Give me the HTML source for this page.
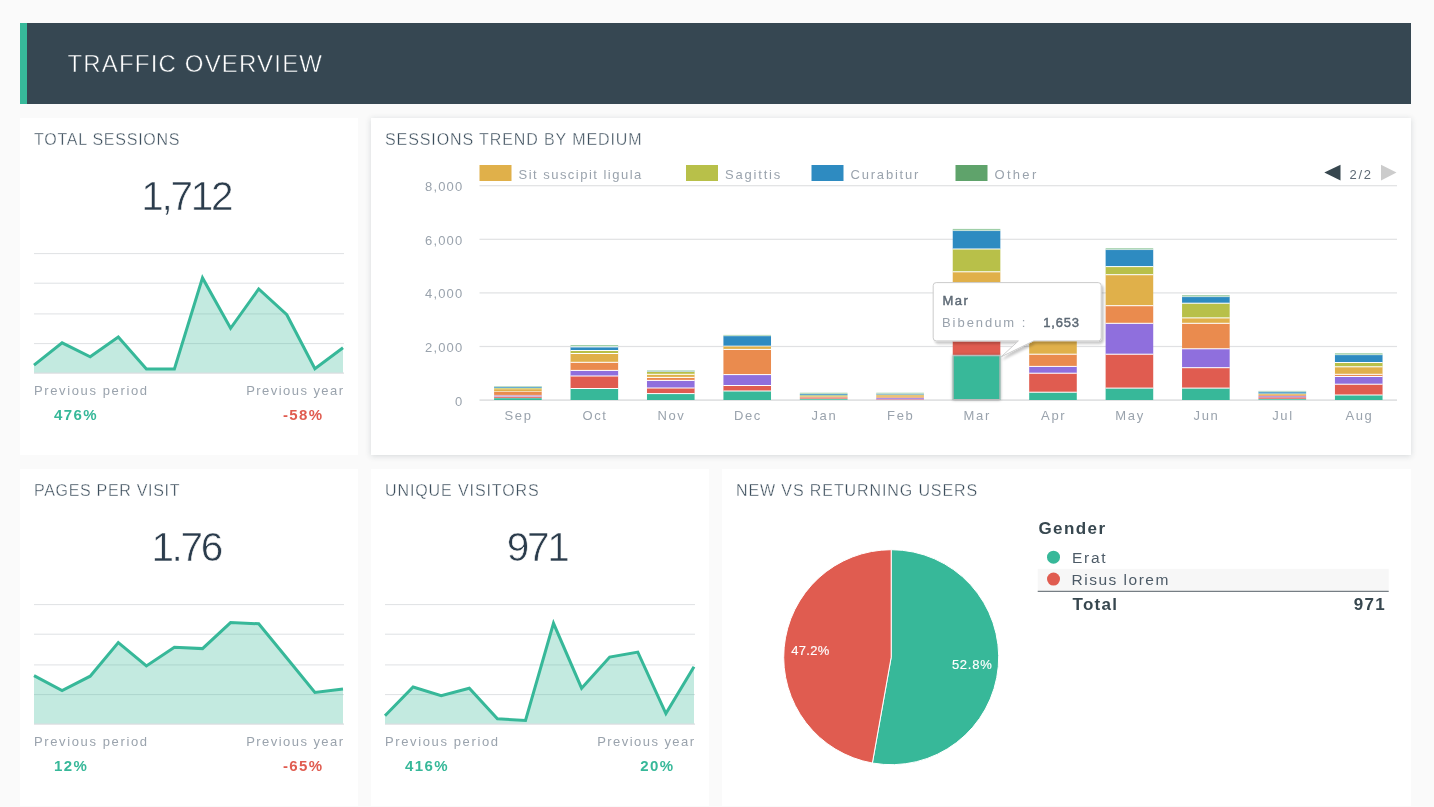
<!DOCTYPE html>
<html><head><meta charset="utf-8"><style>
html,body{margin:0;padding:0;}
body{width:1434px;height:807px;background:#fafafa;position:relative;overflow:hidden;font-family:"Liberation Sans", sans-serif;}
.p{position:absolute;background:#fff;}
svg{position:absolute;left:0;top:0;will-change:transform;}
text{font-family:"Liberation Sans", sans-serif;}
</style></head><body>
<div class="p" style="left:20px;top:23px;width:1391px;height:81px;background:#364752;"></div>
<div class="p" style="left:20px;top:23px;width:7px;height:81px;background:#37b99a;"></div>
<div class="p" style="left:20px;top:118px;width:338px;height:337px;"></div>
<div class="p" style="left:371px;top:118px;width:1040px;height:337px;box-shadow:0 1px 6px rgba(30,45,60,0.17);"></div>
<div class="p" style="left:20px;top:469px;width:338px;height:337px;"></div>
<div class="p" style="left:371px;top:469px;width:338px;height:337px;"></div>
<div class="p" style="left:722px;top:469px;width:689px;height:337px;"></div>
<svg width="1434" height="807" viewBox="0 0 1434 807">
<defs><filter id="ttshadow" x="-10%" y="-20%" width="130%" height="150%"><feDropShadow dx="2" dy="2.5" stdDeviation="1.3" flood-color="#000" flood-opacity="0.22"/></filter><filter id="hov" x="-20%" y="-20%" width="140%" height="140%"><feDropShadow dx="0" dy="0" stdDeviation="1.6" flood-color="#000" flood-opacity="0.4"/></filter></defs>
<text x="67.5" y="72" font-size="24" fill="#ffffff" font-weight="normal" text-anchor="start" letter-spacing="1.17" stroke="#364752" stroke-width="0.5">TRAFFIC OVERVIEW</text>
<text x="34" y="145" font-size="16" fill="#3b4d5b" font-weight="normal" text-anchor="start" letter-spacing="0.75" stroke="#fff" stroke-width="0.35">TOTAL SESSIONS</text>
<text x="385" y="145" font-size="16" fill="#3b4d5b" font-weight="normal" text-anchor="start" letter-spacing="0.9" stroke="#fff" stroke-width="0.35">SESSIONS TREND BY MEDIUM</text>
<text x="34" y="496" font-size="16" fill="#3b4d5b" font-weight="normal" text-anchor="start" letter-spacing="0.69" stroke="#fff" stroke-width="0.35">PAGES PER VISIT</text>
<text x="385" y="496" font-size="16" fill="#3b4d5b" font-weight="normal" text-anchor="start" letter-spacing="0.9" stroke="#fff" stroke-width="0.35">UNIQUE VISITORS</text>
<text x="736" y="496" font-size="16" fill="#3b4d5b" font-weight="normal" text-anchor="start" letter-spacing="0.9" stroke="#fff" stroke-width="0.35">NEW VS RETURNING USERS</text>
<text x="186.2" y="209.5" font-size="40.5" fill="#2b3c4c" font-weight="normal" text-anchor="middle" letter-spacing="-2.3" stroke="#fff" stroke-width="0.6">1,712</text>
<rect x="34" y="253.1" width="310" height="1" fill="#dfe1e4"/>
<rect x="34" y="282.7" width="310" height="1" fill="#dfe1e4"/>
<rect x="34" y="313.4" width="310" height="1" fill="#dfe1e4"/>
<rect x="34" y="343.1" width="310" height="1" fill="#dfe1e4"/>
<polygon points="34,373 34.0,365.2 62.1,342.8 90.2,356.8 118.3,337.0 146.4,369.0 174.4,369.0 202.5,277.9 230.6,328.3 258.7,289.0 286.8,314.7 314.9,368.8 343.0,347.7 343,373" fill="rgba(55,184,153,0.3)"/>
<rect x="34" y="372.5" width="310" height="1.2" fill="#dadcdf"/>
<polyline points="34.0,365.2 62.1,342.8 90.2,356.8 118.3,337.0 146.4,369.0 174.4,369.0 202.5,277.9 230.6,328.3 258.7,289.0 286.8,314.7 314.9,368.8 343.0,347.7" fill="none" stroke="#37b899" stroke-width="3" stroke-linejoin="miter"/>
<text x="34" y="395" font-size="13" fill="#9aa3ad" font-weight="normal" text-anchor="start" letter-spacing="1.62" >Previous period</text>
<text x="344.5" y="395" font-size="13" fill="#9aa3ad" font-weight="normal" text-anchor="end" letter-spacing="1.45" >Previous year</text>
<text x="54" y="420" font-size="15" fill="#37b899" font-weight="bold" text-anchor="start" letter-spacing="1.4" >476%</text>
<text x="323.5" y="420" font-size="15" fill="#e05c50" font-weight="bold" text-anchor="end" letter-spacing="1.4" >-58%</text>
<text x="186.2" y="560.5" font-size="40.5" fill="#2b3c4c" font-weight="normal" text-anchor="middle" letter-spacing="-2.3" stroke="#fff" stroke-width="0.6">1.76</text>
<rect x="34" y="604.1" width="310" height="1" fill="#dfe1e4"/>
<rect x="34" y="633.7" width="310" height="1" fill="#dfe1e4"/>
<rect x="34" y="664.4" width="310" height="1" fill="#dfe1e4"/>
<rect x="34" y="694.1" width="310" height="1" fill="#dfe1e4"/>
<polygon points="34,724 34.0,675.6 62.1,690.5 90.2,676.2 118.3,642.6 146.4,665.9 174.4,647.2 202.5,648.6 230.6,622.6 258.7,623.8 286.8,658.0 314.9,692.4 343.0,688.9 343,724" fill="rgba(55,184,153,0.3)"/>
<rect x="34" y="723.5" width="310" height="1.2" fill="#dadcdf"/>
<polyline points="34.0,675.6 62.1,690.5 90.2,676.2 118.3,642.6 146.4,665.9 174.4,647.2 202.5,648.6 230.6,622.6 258.7,623.8 286.8,658.0 314.9,692.4 343.0,688.9" fill="none" stroke="#37b899" stroke-width="3" stroke-linejoin="miter"/>
<text x="34" y="746" font-size="13" fill="#9aa3ad" font-weight="normal" text-anchor="start" letter-spacing="1.62" >Previous period</text>
<text x="344.5" y="746" font-size="13" fill="#9aa3ad" font-weight="normal" text-anchor="end" letter-spacing="1.45" >Previous year</text>
<text x="54" y="771" font-size="15" fill="#37b899" font-weight="bold" text-anchor="start" letter-spacing="1.4" >12%</text>
<text x="323.5" y="771" font-size="15" fill="#e05c50" font-weight="bold" text-anchor="end" letter-spacing="1.4" >-65%</text>
<text x="537.2" y="560.5" font-size="40.5" fill="#2b3c4c" font-weight="normal" text-anchor="middle" letter-spacing="-2.3" stroke="#fff" stroke-width="0.6">971</text>
<rect x="385" y="604.1" width="310" height="1" fill="#dfe1e4"/>
<rect x="385" y="633.7" width="310" height="1" fill="#dfe1e4"/>
<rect x="385" y="664.4" width="310" height="1" fill="#dfe1e4"/>
<rect x="385" y="694.1" width="310" height="1" fill="#dfe1e4"/>
<polygon points="385,724 385.0,715.8 413.1,687.0 441.2,695.8 469.3,688.2 497.4,718.8 525.5,720.4 553.5,623.3 581.6,688.2 609.7,657.1 637.8,652.1 665.9,713.5 694.0,666.8 694,724" fill="rgba(55,184,153,0.3)"/>
<rect x="385" y="723.5" width="310" height="1.2" fill="#dadcdf"/>
<polyline points="385.0,715.8 413.1,687.0 441.2,695.8 469.3,688.2 497.4,718.8 525.5,720.4 553.5,623.3 581.6,688.2 609.7,657.1 637.8,652.1 665.9,713.5 694.0,666.8" fill="none" stroke="#37b899" stroke-width="3" stroke-linejoin="miter"/>
<text x="385" y="746" font-size="13" fill="#9aa3ad" font-weight="normal" text-anchor="start" letter-spacing="1.62" >Previous period</text>
<text x="695.5" y="746" font-size="13" fill="#9aa3ad" font-weight="normal" text-anchor="end" letter-spacing="1.45" >Previous year</text>
<text x="405" y="771" font-size="15" fill="#37b899" font-weight="bold" text-anchor="start" letter-spacing="1.4" >416%</text>
<text x="674.5" y="771" font-size="15" fill="#37b899" font-weight="bold" text-anchor="end" letter-spacing="1.4" >20%</text>
<text x="463.5" y="191" font-size="13" fill="#9aa3ad" font-weight="normal" text-anchor="end" letter-spacing="1.2" >8,000</text>
<text x="463.5" y="245" font-size="13" fill="#9aa3ad" font-weight="normal" text-anchor="end" letter-spacing="1.2" >6,000</text>
<text x="463.5" y="298" font-size="13" fill="#9aa3ad" font-weight="normal" text-anchor="end" letter-spacing="1.2" >4,000</text>
<text x="463.5" y="352" font-size="13" fill="#9aa3ad" font-weight="normal" text-anchor="end" letter-spacing="1.2" >2,000</text>
<rect x="479.5" y="185.1" width="917.5" height="1.2" fill="#e0e1e3"/>
<rect x="479.5" y="238.7" width="917.5" height="1.2" fill="#e0e1e3"/>
<rect x="479.5" y="292.3" width="917.5" height="1.2" fill="#e0e1e3"/>
<rect x="479.5" y="345.9" width="917.5" height="1.2" fill="#e0e1e3"/>
<rect x="479.5" y="399.4" width="917.5" height="1.4" fill="#dadbdd"/>
<text x="463.5" y="406" font-size="13" fill="#9aa3ad" font-weight="normal" text-anchor="end" letter-spacing="1.2" >0</text>
<rect x="494.1" y="398.0" width="47.6" height="2.0" fill="#37b899"/>
<rect x="494.1" y="396.5" width="47.6" height="1.5" fill="#e05c50"/>
<rect x="494.1" y="395.3" width="47.6" height="1.2" fill="#8f6fdd"/>
<rect x="494.1" y="391.5" width="47.6" height="3.8" fill="#ea8b4e"/>
<rect x="494.1" y="389.0" width="47.6" height="2.5" fill="#e0b04a"/>
<rect x="494.1" y="388.0" width="47.6" height="1.0" fill="#b8c049"/>
<rect x="494.1" y="386.8" width="47.6" height="1.2" fill="#2e8bc1"/>
<rect x="494.1" y="386.0" width="47.6" height="0.8" fill="#9fcfa8"/>
<rect x="494.1" y="397.5" width="47.6" height="1" fill="rgba(255,255,255,0.4)"/>
<rect x="494.1" y="396.0" width="47.6" height="1" fill="rgba(255,255,255,0.4)"/>
<rect x="494.1" y="394.8" width="47.6" height="1" fill="rgba(255,255,255,0.4)"/>
<rect x="494.1" y="391.0" width="47.6" height="1" fill="rgba(255,255,255,0.45)"/>
<rect x="494.1" y="388.5" width="47.6" height="1" fill="rgba(255,255,255,0.4)"/>
<rect x="494.1" y="387.5" width="47.6" height="1" fill="rgba(255,255,255,0.4)"/>
<rect x="494.1" y="386.3" width="47.6" height="1" fill="rgba(255,255,255,0.4)"/>
<text x="518.6" y="420" font-size="13" fill="#9aa3ad" font-weight="normal" text-anchor="middle" letter-spacing="1.65" >Sep</text>
<rect x="570.54" y="388.5" width="47.6" height="11.5" fill="#37b899"/>
<rect x="570.54" y="376.0" width="47.6" height="12.5" fill="#e05c50"/>
<rect x="570.54" y="370.4" width="47.6" height="5.6" fill="#8f6fdd"/>
<rect x="570.54" y="362.3" width="47.6" height="8.1" fill="#ea8b4e"/>
<rect x="570.54" y="353.5" width="47.6" height="8.8" fill="#e0b04a"/>
<rect x="570.54" y="350.5" width="47.6" height="3.0" fill="#b8c049"/>
<rect x="570.54" y="346.9" width="47.6" height="3.6" fill="#2e8bc1"/>
<rect x="570.54" y="345.0" width="47.6" height="1.9" fill="#9fcfa8"/>
<rect x="570.54" y="388.0" width="47.6" height="1" fill="#fff"/>
<rect x="570.54" y="375.5" width="47.6" height="1" fill="#fff"/>
<rect x="570.54" y="369.9" width="47.6" height="1" fill="#fff"/>
<rect x="570.54" y="361.8" width="47.6" height="1" fill="#fff"/>
<rect x="570.54" y="353.0" width="47.6" height="1" fill="#fff"/>
<rect x="570.54" y="350.0" width="47.6" height="1" fill="#fff"/>
<rect x="570.54" y="346.4" width="47.6" height="1" fill="#fff"/>
<text x="595.04" y="420" font-size="13" fill="#9aa3ad" font-weight="normal" text-anchor="middle" letter-spacing="1.65" >Oct</text>
<rect x="646.98" y="393.6" width="47.6" height="6.4" fill="#37b899"/>
<rect x="646.98" y="388.0" width="47.6" height="5.6" fill="#e05c50"/>
<rect x="646.98" y="380.4" width="47.6" height="7.6" fill="#8f6fdd"/>
<rect x="646.98" y="377.4" width="47.6" height="3.0" fill="#ea8b4e"/>
<rect x="646.98" y="374.3" width="47.6" height="3.1" fill="#e0b04a"/>
<rect x="646.98" y="371.5" width="47.6" height="2.8" fill="#b8c049"/>
<rect x="646.98" y="370.8" width="47.6" height="0.7" fill="#2e8bc1"/>
<rect x="646.98" y="370.1" width="47.6" height="0.7" fill="#9fcfa8"/>
<rect x="646.98" y="393.1" width="47.6" height="1" fill="#fff"/>
<rect x="646.98" y="387.5" width="47.6" height="1" fill="#fff"/>
<rect x="646.98" y="379.9" width="47.6" height="1" fill="#fff"/>
<rect x="646.98" y="376.9" width="47.6" height="1" fill="#fff"/>
<rect x="646.98" y="373.8" width="47.6" height="1" fill="#fff"/>
<rect x="646.98" y="371.0" width="47.6" height="1" fill="rgba(255,255,255,0.4)"/>
<rect x="646.98" y="370.3" width="47.6" height="1" fill="rgba(255,255,255,0.4)"/>
<text x="671.48" y="420" font-size="13" fill="#9aa3ad" font-weight="normal" text-anchor="middle" letter-spacing="1.65" >Nov</text>
<rect x="723.4200000000001" y="391.0" width="47.6" height="9.0" fill="#37b899"/>
<rect x="723.4200000000001" y="385.5" width="47.6" height="5.5" fill="#e05c50"/>
<rect x="723.4200000000001" y="374.6" width="47.6" height="10.9" fill="#8f6fdd"/>
<rect x="723.4200000000001" y="349.4" width="47.6" height="25.2" fill="#ea8b4e"/>
<rect x="723.4200000000001" y="346.1" width="47.6" height="3.3" fill="#e0b04a"/>
<rect x="723.4200000000001" y="346.0" width="47.6" height="0.1" fill="#b8c049"/>
<rect x="723.4200000000001" y="335.9" width="47.6" height="10.1" fill="#2e8bc1"/>
<rect x="723.4200000000001" y="334.9" width="47.6" height="1.0" fill="#9fcfa8"/>
<rect x="723.4200000000001" y="390.5" width="47.6" height="1" fill="#fff"/>
<rect x="723.4200000000001" y="385.0" width="47.6" height="1" fill="#fff"/>
<rect x="723.4200000000001" y="374.1" width="47.6" height="1" fill="#fff"/>
<rect x="723.4200000000001" y="348.9" width="47.6" height="1" fill="#fff"/>
<rect x="723.4200000000001" y="345.6" width="47.6" height="1" fill="rgba(255,255,255,0.4)"/>
<rect x="723.4200000000001" y="345.5" width="47.6" height="1" fill="rgba(255,255,255,0.4)"/>
<rect x="723.4200000000001" y="335.4" width="47.6" height="1" fill="rgba(255,255,255,0.4)"/>
<text x="747.9200000000001" y="420" font-size="13" fill="#9aa3ad" font-weight="normal" text-anchor="middle" letter-spacing="1.65" >Dec</text>
<rect x="799.86" y="398.8" width="47.6" height="1.2" fill="#37b899"/>
<rect x="799.86" y="397.3" width="47.6" height="1.5" fill="#e05c50"/>
<rect x="799.86" y="397.0" width="47.6" height="0.3" fill="#ea8b4e"/>
<rect x="799.86" y="396.2" width="47.6" height="0.8" fill="#e0b04a"/>
<rect x="799.86" y="395.2" width="47.6" height="1.0" fill="#b8c049"/>
<rect x="799.86" y="393.9" width="47.6" height="1.3" fill="#2e8bc1"/>
<rect x="799.86" y="392.7" width="47.6" height="1.2" fill="#9fcfa8"/>
<rect x="799.86" y="392.7" width="47.6" height="7.3" fill="rgba(255,255,255,0.25)"/>
<text x="824.36" y="420" font-size="13" fill="#9aa3ad" font-weight="normal" text-anchor="middle" letter-spacing="1.65" >Jan</text>
<rect x="876.3" y="399.3" width="47.6" height="0.7" fill="#e05c50"/>
<rect x="876.3" y="397.8" width="47.6" height="1.5" fill="#8f6fdd"/>
<rect x="876.3" y="397.0" width="47.6" height="0.8" fill="#ea8b4e"/>
<rect x="876.3" y="394.8" width="47.6" height="2.2" fill="#e0b04a"/>
<rect x="876.3" y="394.6" width="47.6" height="0.2" fill="#b8c049"/>
<rect x="876.3" y="393.7" width="47.6" height="0.9" fill="#2e8bc1"/>
<rect x="876.3" y="392.7" width="47.6" height="1.0" fill="#9fcfa8"/>
<rect x="876.3" y="392.7" width="47.6" height="7.3" fill="rgba(255,255,255,0.25)"/>
<text x="900.8" y="420" font-size="13" fill="#9aa3ad" font-weight="normal" text-anchor="middle" letter-spacing="1.65" >Feb</text>
<rect x="952.74" y="355.3" width="47.6" height="44.7" fill="#37b899"/>
<rect x="952.74" y="341.0" width="47.6" height="14.3" fill="#e05c50"/>
<rect x="952.74" y="320.0" width="47.6" height="21.0" fill="#8f6fdd"/>
<rect x="952.74" y="300.0" width="47.6" height="20.0" fill="#ea8b4e"/>
<rect x="952.74" y="271.8" width="47.6" height="28.2" fill="#e0b04a"/>
<rect x="952.74" y="249.0" width="47.6" height="22.8" fill="#b8c049"/>
<rect x="952.74" y="230.6" width="47.6" height="18.4" fill="#2e8bc1"/>
<rect x="952.74" y="228.9" width="47.6" height="1.7" fill="#9fcfa8"/>
<rect x="952.74" y="354.8" width="47.6" height="1" fill="#fff"/>
<rect x="952.74" y="340.5" width="47.6" height="1" fill="#fff"/>
<rect x="952.74" y="319.5" width="47.6" height="1" fill="#fff"/>
<rect x="952.74" y="299.5" width="47.6" height="1" fill="#fff"/>
<rect x="952.74" y="271.3" width="47.6" height="1" fill="#fff"/>
<rect x="952.74" y="248.5" width="47.6" height="1" fill="#fff"/>
<rect x="952.74" y="230.1" width="47.6" height="1" fill="rgba(255,255,255,0.4)"/>
<rect x="953.24" y="355.8" width="46.6" height="43.7" fill="#37b899" stroke="#b9b9b9" stroke-width="1" filter="url(#hov)"/>
<text x="977.24" y="420" font-size="13" fill="#9aa3ad" font-weight="normal" text-anchor="middle" letter-spacing="1.65" >Mar</text>
<rect x="1029.1799999999998" y="392.2" width="47.6" height="7.8" fill="#37b899"/>
<rect x="1029.1799999999998" y="373.2" width="47.6" height="19.0" fill="#e05c50"/>
<rect x="1029.1799999999998" y="366.4" width="47.6" height="6.8" fill="#8f6fdd"/>
<rect x="1029.1799999999998" y="354.2" width="47.6" height="12.2" fill="#ea8b4e"/>
<rect x="1029.1799999999998" y="335.0" width="47.6" height="19.2" fill="#e0b04a"/>
<rect x="1029.1799999999998" y="325.0" width="47.6" height="10.0" fill="#b8c049"/>
<rect x="1029.1799999999998" y="315.0" width="47.6" height="10.0" fill="#2e8bc1"/>
<rect x="1029.1799999999998" y="313.0" width="47.6" height="2.0" fill="#9fcfa8"/>
<rect x="1029.1799999999998" y="391.7" width="47.6" height="1" fill="#fff"/>
<rect x="1029.1799999999998" y="372.7" width="47.6" height="1" fill="#fff"/>
<rect x="1029.1799999999998" y="365.9" width="47.6" height="1" fill="#fff"/>
<rect x="1029.1799999999998" y="353.7" width="47.6" height="1" fill="#fff"/>
<rect x="1029.1799999999998" y="334.5" width="47.6" height="1" fill="#fff"/>
<rect x="1029.1799999999998" y="324.5" width="47.6" height="1" fill="#fff"/>
<rect x="1029.1799999999998" y="314.5" width="47.6" height="1" fill="#fff"/>
<text x="1053.6799999999998" y="420" font-size="13" fill="#9aa3ad" font-weight="normal" text-anchor="middle" letter-spacing="1.65" >Apr</text>
<rect x="1105.62" y="388.1" width="47.6" height="11.9" fill="#37b899"/>
<rect x="1105.62" y="354.2" width="47.6" height="33.9" fill="#e05c50"/>
<rect x="1105.62" y="323.3" width="47.6" height="30.9" fill="#8f6fdd"/>
<rect x="1105.62" y="305.7" width="47.6" height="17.6" fill="#ea8b4e"/>
<rect x="1105.62" y="274.7" width="47.6" height="31.0" fill="#e0b04a"/>
<rect x="1105.62" y="266.6" width="47.6" height="8.1" fill="#b8c049"/>
<rect x="1105.62" y="249.6" width="47.6" height="17.0" fill="#2e8bc1"/>
<rect x="1105.62" y="248.2" width="47.6" height="1.4" fill="#9fcfa8"/>
<rect x="1105.62" y="387.6" width="47.6" height="1" fill="#fff"/>
<rect x="1105.62" y="353.7" width="47.6" height="1" fill="#fff"/>
<rect x="1105.62" y="322.8" width="47.6" height="1" fill="#fff"/>
<rect x="1105.62" y="305.2" width="47.6" height="1" fill="#fff"/>
<rect x="1105.62" y="274.2" width="47.6" height="1" fill="#fff"/>
<rect x="1105.62" y="266.1" width="47.6" height="1" fill="#fff"/>
<rect x="1105.62" y="249.1" width="47.6" height="1" fill="rgba(255,255,255,0.4)"/>
<text x="1130.12" y="420" font-size="13" fill="#9aa3ad" font-weight="normal" text-anchor="middle" letter-spacing="1.65" >May</text>
<rect x="1182.06" y="388.1" width="47.6" height="11.9" fill="#37b899"/>
<rect x="1182.06" y="367.7" width="47.6" height="20.4" fill="#e05c50"/>
<rect x="1182.06" y="348.8" width="47.6" height="18.9" fill="#8f6fdd"/>
<rect x="1182.06" y="323.3" width="47.6" height="25.5" fill="#ea8b4e"/>
<rect x="1182.06" y="317.9" width="47.6" height="5.4" fill="#e0b04a"/>
<rect x="1182.06" y="303.2" width="47.6" height="14.7" fill="#b8c049"/>
<rect x="1182.06" y="296.7" width="47.6" height="6.5" fill="#2e8bc1"/>
<rect x="1182.06" y="295.1" width="47.6" height="1.6" fill="#9fcfa8"/>
<rect x="1182.06" y="387.6" width="47.6" height="1" fill="#fff"/>
<rect x="1182.06" y="367.2" width="47.6" height="1" fill="#fff"/>
<rect x="1182.06" y="348.3" width="47.6" height="1" fill="#fff"/>
<rect x="1182.06" y="322.8" width="47.6" height="1" fill="#fff"/>
<rect x="1182.06" y="317.4" width="47.6" height="1" fill="#fff"/>
<rect x="1182.06" y="302.7" width="47.6" height="1" fill="#fff"/>
<rect x="1182.06" y="296.2" width="47.6" height="1" fill="rgba(255,255,255,0.4)"/>
<text x="1206.56" y="420" font-size="13" fill="#9aa3ad" font-weight="normal" text-anchor="middle" letter-spacing="1.65" >Jun</text>
<rect x="1258.5" y="399.0" width="47.6" height="1.0" fill="#37b899"/>
<rect x="1258.5" y="397.2" width="47.6" height="1.8" fill="#e05c50"/>
<rect x="1258.5" y="396.1" width="47.6" height="1.1" fill="#8f6fdd"/>
<rect x="1258.5" y="395.0" width="47.6" height="1.1" fill="#ea8b4e"/>
<rect x="1258.5" y="394.0" width="47.6" height="1.0" fill="#e0b04a"/>
<rect x="1258.5" y="393.6" width="47.6" height="0.4" fill="#b8c049"/>
<rect x="1258.5" y="391.6" width="47.6" height="2.0" fill="#2e8bc1"/>
<rect x="1258.5" y="390.9" width="47.6" height="0.7" fill="#9fcfa8"/>
<rect x="1258.5" y="390.9" width="47.6" height="9.1" fill="rgba(255,255,255,0.25)"/>
<text x="1283.0" y="420" font-size="13" fill="#9aa3ad" font-weight="normal" text-anchor="middle" letter-spacing="1.65" >Jul</text>
<rect x="1334.94" y="395.0" width="47.6" height="5.0" fill="#37b899"/>
<rect x="1334.94" y="384.2" width="47.6" height="10.8" fill="#e05c50"/>
<rect x="1334.94" y="376.5" width="47.6" height="7.7" fill="#8f6fdd"/>
<rect x="1334.94" y="374.3" width="47.6" height="2.2" fill="#ea8b4e"/>
<rect x="1334.94" y="366.8" width="47.6" height="7.5" fill="#e0b04a"/>
<rect x="1334.94" y="362.5" width="47.6" height="4.3" fill="#b8c049"/>
<rect x="1334.94" y="354.8" width="47.6" height="7.7" fill="#2e8bc1"/>
<rect x="1334.94" y="353.2" width="47.6" height="1.6" fill="#9fcfa8"/>
<rect x="1334.94" y="394.5" width="47.6" height="1" fill="#fff"/>
<rect x="1334.94" y="383.7" width="47.6" height="1" fill="#fff"/>
<rect x="1334.94" y="376.0" width="47.6" height="1" fill="#fff"/>
<rect x="1334.94" y="373.8" width="47.6" height="1" fill="#fff"/>
<rect x="1334.94" y="366.3" width="47.6" height="1" fill="#fff"/>
<rect x="1334.94" y="362.0" width="47.6" height="1" fill="#fff"/>
<rect x="1334.94" y="354.3" width="47.6" height="1" fill="rgba(255,255,255,0.4)"/>
<text x="1359.44" y="420" font-size="13" fill="#9aa3ad" font-weight="normal" text-anchor="middle" letter-spacing="1.65" >Aug</text>
<rect x="479.5" y="165" width="32" height="16" fill="#e0b04a"/>
<text x="518.5" y="179" font-size="13" fill="#9aa3ad" font-weight="normal" text-anchor="start" letter-spacing="1.48" >Sit suscipit ligula</text>
<rect x="686" y="165" width="32" height="16" fill="#b8c049"/>
<text x="725" y="179" font-size="13" fill="#9aa3ad" font-weight="normal" text-anchor="start" letter-spacing="1.8" >Sagittis</text>
<rect x="811.5" y="165" width="32" height="16" fill="#2e8bc1"/>
<text x="850.5" y="179" font-size="13" fill="#9aa3ad" font-weight="normal" text-anchor="start" letter-spacing="1.8" >Curabitur</text>
<rect x="955.5" y="165" width="32" height="16" fill="#5fa36b"/>
<text x="994.5" y="179" font-size="13" fill="#9aa3ad" font-weight="normal" text-anchor="start" letter-spacing="2.3" >Other</text>
<polygon points="1324.3,172.5 1340.5,164.8 1340.5,180.5" fill="#37474f"/>
<text x="1349.5" y="179" font-size="13" fill="#5d6975" font-weight="normal" text-anchor="start" letter-spacing="1.75" >2/2</text>
<polygon points="1381,164.8 1396.5,172.5 1381,180.5" fill="#cccccc"/>
<g filter="url(#ttshadow)"><path d="M936.2,282.6 H1098.2 Q1101.2,282.6 1101.2,285.6 V337.9 Q1101.2,340.9 1098.2,340.9 H1033.7 L1001.2,356.8 L1018.4,340.9 H936.2 Q933.2,340.9 933.2,337.9 V285.6 Q933.2,282.6 936.2,282.6 Z" fill="#ffffff" stroke="#cccccc" stroke-width="1"/></g>
<text x="942.5" y="305" font-size="13" fill="#5d6975" font-weight="normal" text-anchor="start" letter-spacing="1.5" stroke="#5d6975" stroke-width="0.45">Mar</text>
<text x="942" y="327" font-size="13" fill="#9aa3ad" font-weight="normal" text-anchor="start" letter-spacing="1.95" >Bibendum :</text>
<text x="1043.3" y="327" font-size="13" fill="#5d6975" font-weight="normal" text-anchor="start" letter-spacing="0.8" stroke="#5d6975" stroke-width="0.45">1,653</text>
<path d="M891.2,657.2 L891.2,549.7 A107.5,107.5 0 1 1 872.39,763.04 Z" fill="#37b899" stroke="#fff" stroke-width="1"/>
<path d="M891.2,657.2 L872.39,763.04 A107.5,107.5 0 0 1 891.2,549.7 Z" fill="#e05c50" stroke="#fff" stroke-width="1"/>
<text x="791.3" y="655" font-size="13" fill="#ffffff" font-weight="normal" text-anchor="start" letter-spacing="0.3" stroke="#fff" stroke-width="0.15">47.2%</text>
<text x="951.9" y="669" font-size="13" fill="#ffffff" font-weight="normal" text-anchor="start" letter-spacing="0.75" stroke="#fff" stroke-width="0.15">52.8%</text>
<text x="1038.5" y="534" font-size="17" fill="#37474f" font-weight="bold" text-anchor="start" letter-spacing="1.4" >Gender</text>
<rect x="1037.7" y="568.8" width="351" height="22" fill="#f7f7f7"/>
<rect x="1037.7" y="590.8" width="351" height="1" fill="#555f66"/>
<circle cx="1053.5" cy="557.2" r="6.5" fill="#37b899"/>
<circle cx="1053.5" cy="579.1" r="6.5" fill="#e05c50"/>
<text x="1072" y="563" font-size="15.5" fill="#4d5b67" font-weight="normal" text-anchor="start" letter-spacing="1.7" >Erat</text>
<text x="1071.5" y="585" font-size="15.5" fill="#4d5b67" font-weight="normal" text-anchor="start" letter-spacing="1.5" >Risus lorem</text>
<text x="1072.5" y="610" font-size="17" fill="#37474f" font-weight="bold" text-anchor="start" letter-spacing="1.3" >Total</text>
<text x="1386" y="610" font-size="17" fill="#37474f" font-weight="bold" text-anchor="end" letter-spacing="1.3" >971</text>
</svg>
</body></html>
